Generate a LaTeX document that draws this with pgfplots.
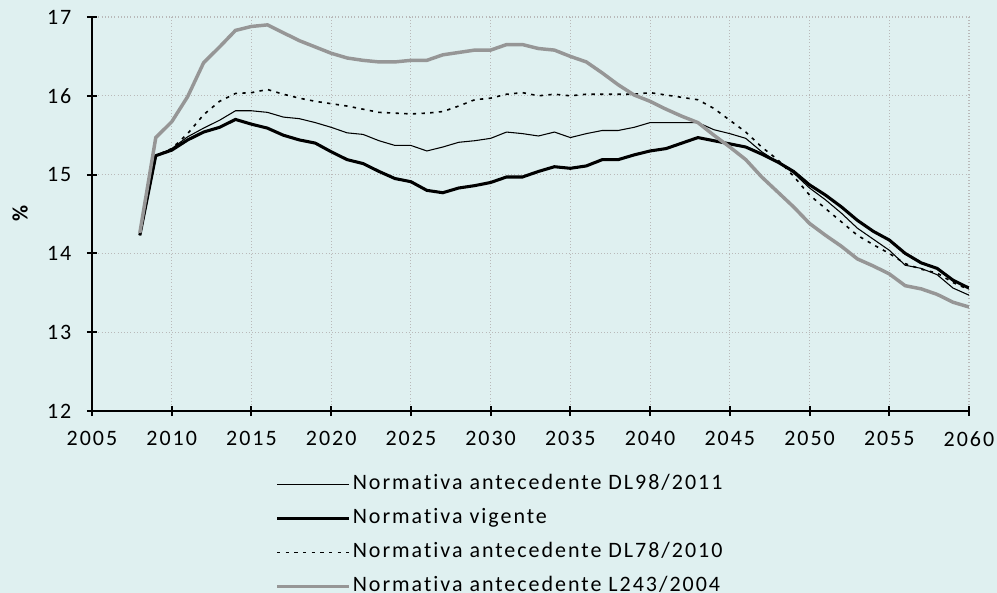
\documentclass[border=0pt]{standalone}
\usepackage{fontspec}
\setmainfont[LetterSpace=9, Ligatures={NoCommon}]{Carlito}
\usepackage{pgfplots}
\pgfplotsset{compat=1.18}
\newlength\px \setlength\px{0.75pt}
\definecolor{bgcol}{RGB}{223,240,240}
\definecolor{linegray}{RGB}{150,150,150}
\definecolor{gridgray}{RGB}{185,185,185}
\begin{document}
\fontsize{16.5}{20}\selectfont
\begin{tikzpicture}
\fill[bgcol] (0,0) rectangle (997\px,593\px);
\begin{axis}[
  at={(92\px,182\px)}, anchor=south west,
  scale only axis, width=877\px, height=394\px,
  xmin=2005, xmax=2060, ymin=12, ymax=17,
  xtick={2005,2010,...,2060}, ytick={12,13,...,17},
  axis x line=bottom, axis y line=left,
  axis line style={line width=1.5pt, -},
  tick align=center, major tick length=10\px,
  tick style={line width=1.5pt, black},
  grid=major, grid style={gridgray, dotted, line width=0.8pt},
  xticklabel style={/pgf/number format/1000 sep={}, yshift=-8\px},
  yticklabel style={xshift=-8\px},
  /pgf/number format/assume math mode=true,
  ylabel={\textbf{\%}},
  ylabel style={at={(axis description cs:-0.082,0.503)}, anchor=center},
  legend cell align=left,
  legend style={draw=none, fill=none, inner sep=0pt,
    at={(rel axis cs:0.2087,-0.155)}, anchor=north west,
    row sep=7.5pt, font=\fontsize{16.5}{20}\selectfont,
    nodes={inner sep=1.5pt, text height=11.5pt, text depth=3.5pt}},
  legend image code/.code={\draw[#1] (0pt,0pt) -- (72\px,0pt);},
]
\addplot[black, line width=0.8pt] coordinates {
(2008,14.23)(2009,15.24)(2010,15.33)(2011,15.48)(2012,15.59)(2013,15.69)(2014,15.81)(2015,15.81)(2016,15.79)(2017,15.73)(2018,15.71)(2019,15.66)(2020,15.60)(2021,15.53)(2022,15.51)(2023,15.43)(2024,15.37)(2025,15.37)(2026,15.30)(2027,15.35)(2028,15.41)(2029,15.43)(2030,15.46)(2031,15.54)(2032,15.52)(2033,15.49)(2034,15.54)(2035,15.47)(2036,15.52)(2037,15.56)(2038,15.56)(2039,15.60)(2040,15.66)(2041,15.66)(2042,15.66)(2043,15.66)(2044,15.57)(2045,15.52)(2046,15.46)(2047,15.29)(2048,15.16)(2049,15.02)(2050,14.83)(2051,14.68)(2052,14.51)(2053,14.32)(2054,14.18)(2055,14.04)(2056,13.85)(2057,13.81)(2058,13.73)(2059,13.56)(2060,13.47)};
\addlegendentry{Normativa antecedente DL98/2011}
\addplot[black, line width=2.3pt] coordinates {
(2008,14.23)(2009,15.24)(2010,15.31)(2011,15.44)(2012,15.54)(2013,15.60)(2014,15.70)(2015,15.64)(2016,15.59)(2017,15.50)(2018,15.44)(2019,15.40)(2020,15.29)(2021,15.19)(2022,15.14)(2023,15.04)(2024,14.95)(2025,14.91)(2026,14.80)(2027,14.77)(2028,14.83)(2029,14.86)(2030,14.90)(2031,14.97)(2032,14.97)(2033,15.04)(2034,15.10)(2035,15.08)(2036,15.11)(2037,15.19)(2038,15.19)(2039,15.25)(2040,15.30)(2041,15.33)(2042,15.40)(2043,15.47)(2044,15.43)(2045,15.39)(2046,15.35)(2047,15.26)(2048,15.16)(2049,15.04)(2050,14.87)(2051,14.74)(2052,14.59)(2053,14.42)(2054,14.28)(2055,14.17)(2056,14.00)(2057,13.88)(2058,13.81)(2059,13.66)(2060,13.56)};
\addlegendentry{Normativa vigente}
\addplot[black, line width=1.2pt, dash pattern=on 2.5pt off 4pt] coordinates {
(2008,14.23)(2009,15.24)(2010,15.33)(2011,15.52)(2012,15.76)(2013,15.93)(2014,16.03)(2015,16.04)(2016,16.08)(2017,16.02)(2018,15.97)(2019,15.93)(2020,15.90)(2021,15.87)(2022,15.83)(2023,15.79)(2024,15.78)(2025,15.77)(2026,15.78)(2027,15.80)(2028,15.87)(2029,15.95)(2030,15.97)(2031,16.02)(2032,16.04)(2033,16.00)(2034,16.02)(2035,16.00)(2036,16.02)(2037,16.02)(2038,16.02)(2039,16.02)(2040,16.04)(2041,16.01)(2042,15.98)(2043,15.95)(2044,15.84)(2045,15.69)(2046,15.54)(2047,15.35)(2048,15.19)(2049,14.98)(2050,14.74)(2051,14.57)(2052,14.40)(2053,14.23)(2054,14.11)(2055,14.00)(2056,13.87)(2057,13.80)(2058,13.75)(2059,13.63)(2060,13.54)};
\addlegendentry{Normativa antecedente DL78/2010}
\addplot[linegray, line width=2.6pt] coordinates {
(2008,14.26)(2009,15.47)(2010,15.67)(2011,15.99)(2012,16.42)(2013,16.62)(2014,16.83)(2015,16.88)(2016,16.90)(2017,16.80)(2018,16.70)(2019,16.62)(2020,16.54)(2021,16.48)(2022,16.45)(2023,16.43)(2024,16.43)(2025,16.45)(2026,16.45)(2027,16.52)(2028,16.55)(2029,16.58)(2030,16.58)(2031,16.65)(2032,16.65)(2033,16.60)(2034,16.58)(2035,16.50)(2036,16.43)(2037,16.29)(2038,16.14)(2039,16.01)(2040,15.93)(2041,15.83)(2042,15.74)(2043,15.66)(2044,15.50)(2045,15.35)(2046,15.19)(2047,14.97)(2048,14.78)(2049,14.59)(2050,14.38)(2051,14.23)(2052,14.09)(2053,13.93)(2054,13.84)(2055,13.74)(2056,13.59)(2057,13.55)(2058,13.48)(2059,13.38)(2060,13.32)};
\addlegendentry{Normativa antecedente L243/2004}
\end{axis}
\pgfresetboundingbox
\path[use as bounding box] (0,0) rectangle (997\px,593\px);
\end{tikzpicture}
\end{document}
